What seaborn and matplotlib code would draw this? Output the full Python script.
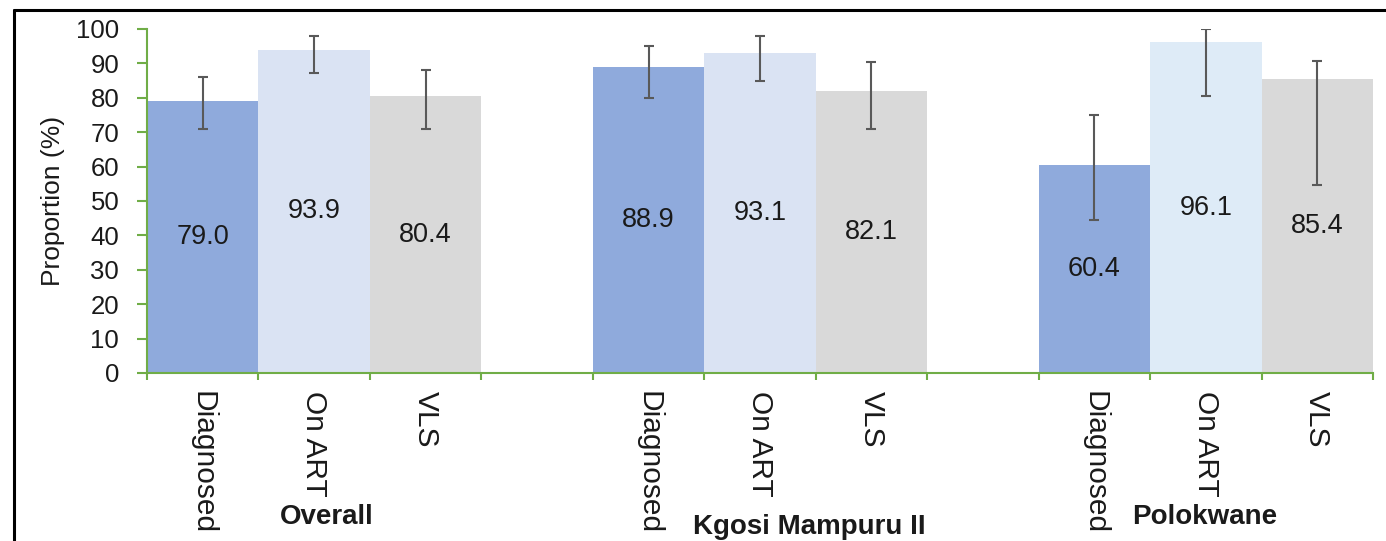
import numpy as np
import pandas as pd
import matplotlib.pyplot as plt
from matplotlib.lines import Line2D
import seaborn as sns

# data
groups = ["Overall", "Kgosi Mampuru II", "Polokwane"]
measures = ["Diagnosed", "On ART", "VLS"]
values = [79.0, 93.9, 80.4, 88.9, 93.1, 82.1, 60.4, 96.1, 85.4]
ci_low = [71.0, 87.2, 71.0, 80.0, 84.8, 71.0, 44.5, 80.4, 54.7]
ci_high = [86.0, 98.0, 88.2, 95.1, 98.0, 90.3, 75.0, 100.0, 90.7]

bar_colors = ["#8FAADC", "#DAE3F3", "#D9D9D9",
              "#8FAADC", "#DAE3F3", "#D9D9D9",
              "#8FAADC", "#DEEBF7", "#D9D9D9"]

slots = [g + "|" + m for g in groups for m in measures]
df = pd.DataFrame({"slot": slots, "value": values, "lo": ci_low, "hi": ci_high})

# empty slot between each group
order = slots[0:3] + ["gap1"] + slots[3:6] + ["gap2"] + slots[6:9]
pos = [order.index(s) for s in slots]

sns.set_style("white")
plt.rcParams["font.family"] = ["Liberation Sans", "DejaVu Sans"]

fig = plt.figure(figsize=(13.86, 5.41), dpi=100)
ax = fig.add_axes([147 / 1386, 1 - 373 / 541, (1373 - 147) / 1386, (373 - 29) / 541])

sns.barplot(data=df, x="slot", y="value", hue="slot", order=order,
            palette=dict(zip(slots, bar_colors)), width=1.0, linewidth=0,
            saturation=1, errorbar=None, legend=False, ax=ax)

v = np.array(values)
yerr = [v - np.array(ci_low), np.array(ci_high) - v]
ax.errorbar(pos, v, yerr=yerr, fmt="none", ecolor="#595959",
            elinewidth=1.5, capsize=3.6, capthick=1.5, zorder=5)

for x, val in zip(pos, values):
    ax.text(x, val / 2, f"{val:.1f}", ha="center", va="center",
            fontsize=19.5, color="#1a1a1a")

ax.set_xlim(-0.5, 10.5)
ax.set_ylim(0, 100)
ax.set_yticks(range(0, 101, 10))
ax.tick_params(axis="y", labelsize=18.5, length=7, width=1.5, color="#70AD47",
               pad=13, labelcolor="#1a1a1a", left=True)

# tick marks at slot edges, labels at bar centres
ax.set_xticks(np.arange(-0.5, 11, 1.0))
ax.set_xticklabels([])
ax.set_xticks(pos, minor=True)
ax.set_xticklabels(measures * 3, minor=True, rotation=270, ha="center", va="top")
ax.tick_params(axis="x", which="major", length=5, width=1.5, color="#70AD47",
               bottom=True)
ax.tick_params(axis="x", which="minor", length=0, pad=13, labelsize=21.5,
               labelcolor="#1a1a1a")

ax.set_xlabel("")
ax.set_ylabel("Proportion (%)", fontsize=19, color="#1a1a1a", labelpad=8)

for side in ["top", "right"]:
    ax.spines[side].set_visible(False)
for side in ["left", "bottom"]:
    ax.spines[side].set_color("#70AD47")
    ax.spines[side].set_linewidth(1.5)

# group labels under the tick labels
fig.text(327 / 1386, 1 - 517 / 541, groups[0], ha="center", va="center",
         fontsize=20, fontweight="bold", color="#1a1a1a")
fig.text(809 / 1386, 1 - 527 / 541, groups[1], ha="center", va="center",
         fontsize=20, fontweight="bold", color="#1a1a1a")
fig.text(1205 / 1386, 1 - 517 / 541, groups[2], ha="center", va="center",
         fontsize=20, fontweight="bold", color="#1a1a1a")

# outer frame (only left and top edges are in view)
fig.add_artist(Line2D([14 / 1386, 14 / 1386], [0, 1 - 10 / 541],
                      transform=fig.transFigure, color="black", lw=2.2))
fig.add_artist(Line2D([14 / 1386, 1], [1 - 10 / 541, 1 - 10 / 541],
                      transform=fig.transFigure, color="black", lw=2.2))

fig.savefig("out.png", dpi=100)
